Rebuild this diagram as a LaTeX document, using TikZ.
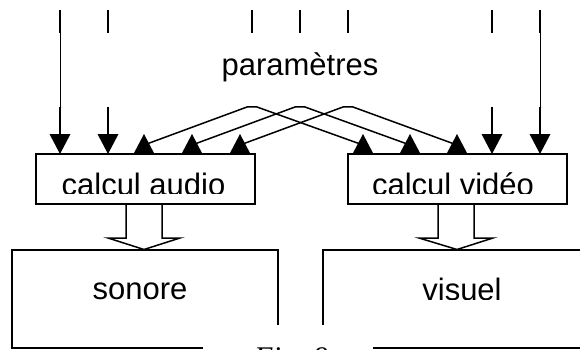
\documentclass[tikz,border=0pt]{standalone}
\usepackage{fontspec}
\setmainfont{Liberation Sans}
\newfontfamily\figfont{Liberation Serif}
\begin{document}
\begin{tikzpicture}[x=1pt,y=-1pt,line join=miter,
  lw/.style={line width=1.5pt},
  thinline/.style={line width=0.8pt},
  box/.style={draw,line width=1.5pt,inner sep=0pt,outer sep=0pt},
  lbl/.style={inner sep=0pt,font=\fontsize{31}{37}\selectfont},
  uptip/.pic={\fill (-10.5,0) -- (0,-20) -- (10.5,0) -- cycle;},
  downtip/.pic={\fill (-10.5,0) -- (0,20) -- (10.5,0) -- cycle;}]
\useasboundingbox (0,0) rectangle (580,350);

% boxes
\node[box,minimum width=219pt,minimum height=50pt] (audio) at (145.5,179) {};
\node[box,minimum width=219pt,minimum height=50pt] (video) at (457.5,179) {};
\node[box,minimum width=266pt,minimum height=98pt] (sonore) at (145,299) {};
\node[box,minimum width=300pt,minimum height=98pt] (visuel) at (473,299) {};

% labels
\node[lbl,anchor=base] (param) at (300,76) {paramètres};
\begin{scope}
  \clip (0,0) rectangle (580,193.5);
  \node[lbl,anchor=base] (taudio) at (143.5,195) {calcul audio};
  \node[lbl,anchor=base] (tvideo) at (453,195) {calcul vidéo};
\end{scope}
\begin{scope}
  \clip (0,0) rectangle (580,299.5);
  \node[lbl,anchor=base] (tsonore) at (140,299.5) {sonore};
  \node[lbl,anchor=base] (tvisuel) at (462,300) {visuel};
\end{scope}

% parameter ticks
\foreach \x [count=\i] in {60,108,252,300,348,492,540} {
  \coordinate (t\i) at (\x,10);
  \coordinate (s\i) at (\x,33);
  \coordinate (p\i) at (\x,107);
  \draw[lw] (t\i) -- (s\i);
}
\draw[thinline] (s1) -- (p1);
\draw[thinline] (s7) -- (p7);

% straight down arrows
\foreach \i in {1,2,6,7} {
  \draw[lw] (p\i) -- ++(0,27);
  \path (p\i) ++(0,27) pic {downtip};
}

% crossing connectors
\foreach \i/\a/\v in {3/144/363,4/192/410,5/240/457} {
  \coordinate (ua\i) at (\a,154);
  \coordinate (uv\i) at (\v,154);
  \draw[lw] (p\i) -- ++(-5,0) -- (\a,145);
  \draw[lw] (p\i) -- ++(5,0) -- (\v,145);
  \pic at (ua\i) {uptip};
  \pic at (uv\i) {uptip};
}

% hollow arrows
\draw[lw] (126,204) -- (126,238) -- (108,238) -- (144,249.5) -- (180,238) -- (162,238) -- (162,204);
\draw[lw] (438,204) -- (438,238) -- (419,238) -- (457,249.5) -- (493,238) -- (474,238) -- (474,204);

% caption
\fill[white] (203,325) rectangle (373,360);
\node[anchor=base west,inner sep=0pt,font=\figfont\itshape\fontsize{30}{36}\selectfont] (fig) at (254,367) {Fig. 9};
\end{tikzpicture}
\end{document}
